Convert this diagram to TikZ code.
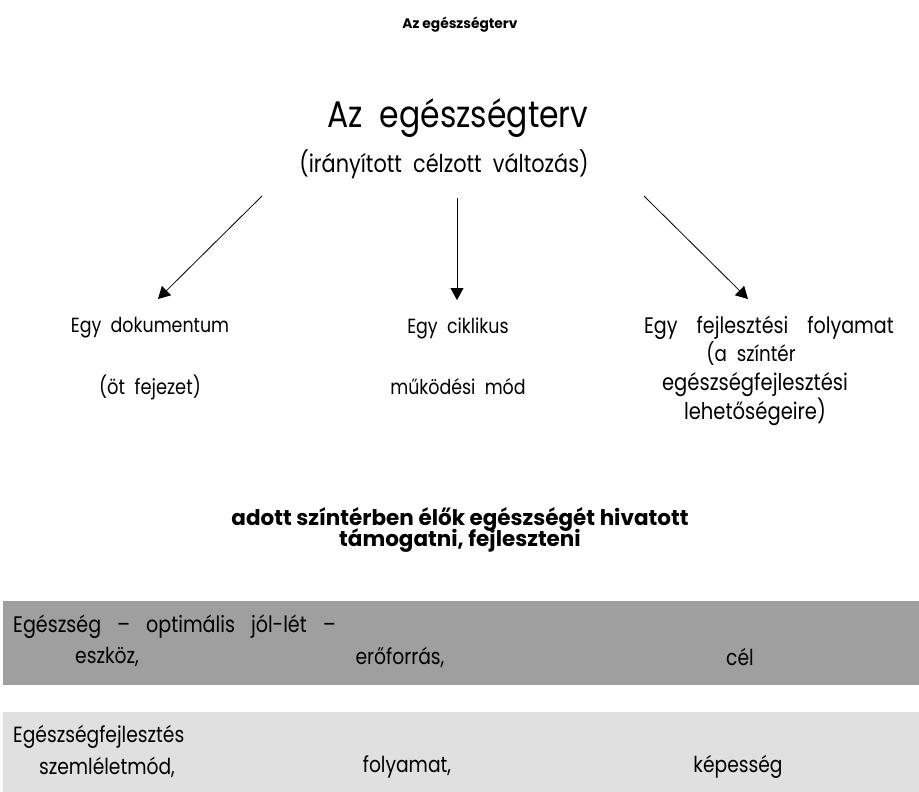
\documentclass[tikz,border=0pt]{standalone}
\usepackage{fontspec}
\setmainfont{Poppins}[FakeStretch=0.85, WordSpace=2.0]
\newfontfamily\heavyA{Poppins}[FakeStretch=1.0]
\usetikzlibrary{arrows.meta}
\definecolor{bandA}{HTML}{9F9F9F}
\definecolor{bandB}{HTML}{E0E0E0}
\tikzset{
  txt/.style={inner sep=0pt, anchor=center, align=center},
  lefttxt/.style={inner sep=0pt, anchor=west},
  fs/.style={font=\fontsize{#1}{#1}\selectfont},
  heavy/.style={font=\heavyA\bfseries\fontsize{#1}{#1}\selectfont},
  arr/.style={line width=0.8pt, -{Triangle[length=12pt,width=13pt]}},
}
\newcommand{\wsp}{\hspace{16pt}}
\newcommand{\wspb}{\hspace{19pt}}
\begin{document}
\begin{tikzpicture}[x=1pt,y=-1pt]
\useasboundingbox (0,0) rectangle (919,792);
% bands
\fill[bandA] (3,601) rectangle (919,685);
\fill[bandB] (3,712) rectangle (919,792);
% titles
\node[txt, heavy=13.8] (title) at (460,25) {Az egészségterv};
\node[txt, fs=37] (main) at (458,118) {Az egészségterv};
\node[txt, fs=24.5] (sub) at (444,164) {(irányított célzott változás)};
% arrow ends
\coordinate (a1s) at (262,196); \coordinate (a1e) at (158,299);
\coordinate (a2s) at (457,198); \coordinate (a2e) at (457,300);
\coordinate (a3s) at (644,196); \coordinate (a3e) at (748,299);
\draw[arr] (a1s) -- (a1e);
\draw[arr] (a2s) -- (a2e);
\draw[arr] (a3s) -- (a3e);
% level 2
\node[txt, fs=20.5] (doc) at (150,328) {Egy dokumentum};
\node[txt, fs=21] (doc2) at (150,387) {(öt fejezet)};
\node[txt, fs=20.5] (cik) at (458,328) {Egy ciklikus};
\node[txt, fs=20.5] (cik2) at (458,387) {működési mód};
\node[txt, fs=22.5] (fej) at (769,328) {Egy\wspb fejlesztési\wspb folyamat};
\node[txt, fs=21.5] (fej2) at (751,353) {(a színtér};
\node[txt, fs=23] (fej3) at (755,385) {egészségfejlesztési};
\node[txt, fs=23] (fej4) at (755,412) {lehetőségeire)};
% bold statement
\node[txt, heavy=21.5] (st1) at (460,519) {adott színtérben élők egészségét hivatott};
\node[txt, heavy=21.5] (st2) at (460,541) {támogatni, fejleszteni};
% band A texts
\node[lefttxt, fs=22.5] (ba0) at (13,627) {Egészség\wsp –\wsp optimális\wsp jól-lét\wsp –};
\node[txt, fs=22] (ba1) at (107,657) {eszköz,};
\node[txt, fs=22] (ba2) at (400,657) {erőforrás,};
\node[txt, fs=22] (ba3) at (740,657) {cél};
% band B texts
\node[lefttxt, fs=22] (bb0) at (13,737) {Egészségfejlesztés};
\node[txt, fs=22] (bb1) at (107,767) {szemléletmód,};
\node[txt, fs=22] (bb2) at (407,767) {folyamat,};
\node[txt, fs=22] (bb3) at (738,767) {képesség};
\end{tikzpicture}
\end{document}
